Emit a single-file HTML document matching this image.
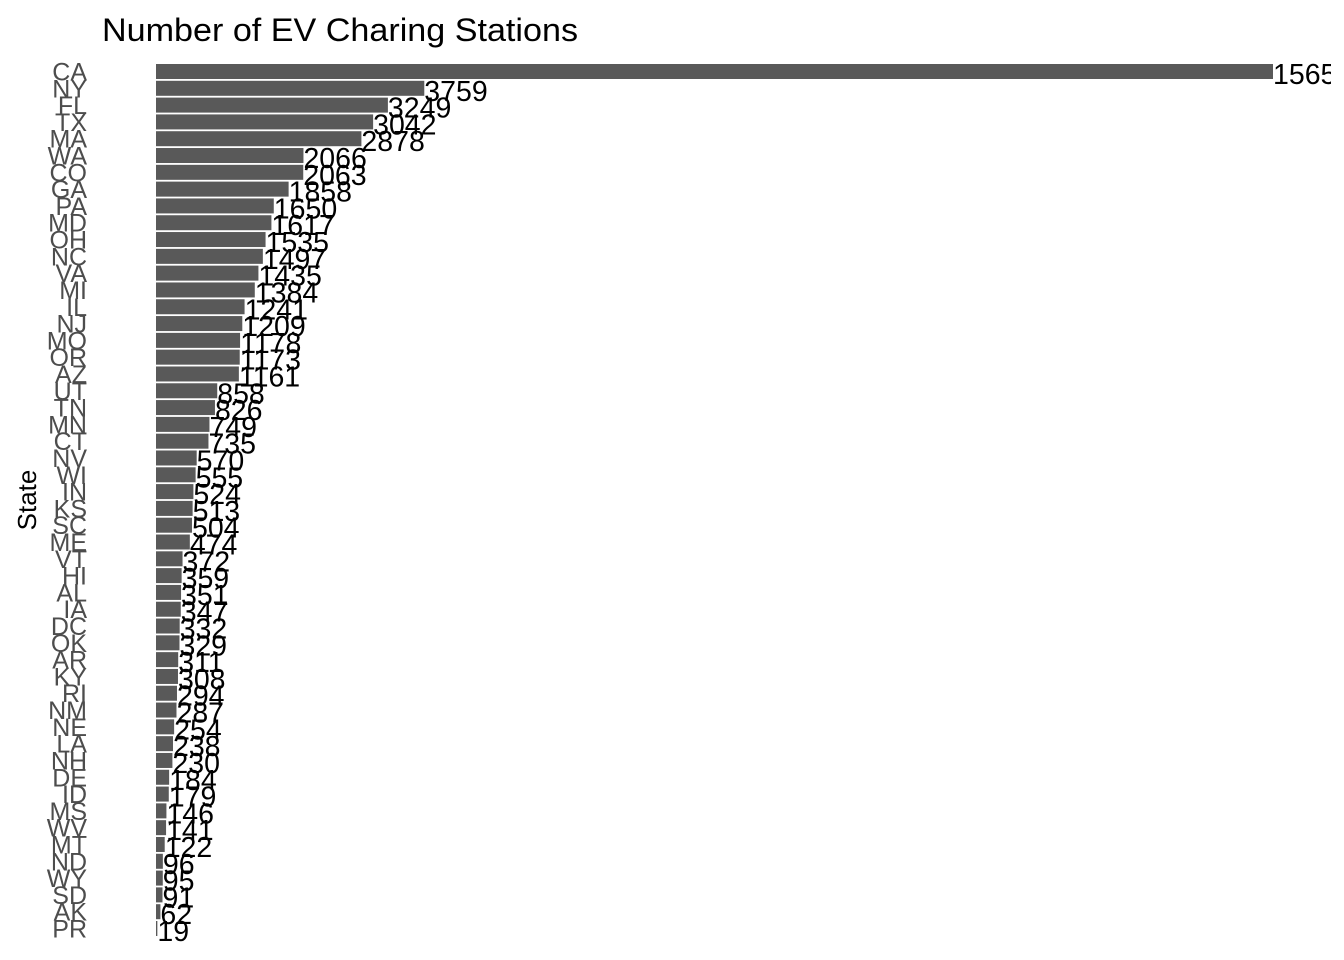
<!DOCTYPE html>
<html><head><meta charset="utf-8"><style>
body{margin:0;background:#fff}
svg{display:block;font-family:"Liberation Sans",Arial,sans-serif}
</style></head><body>
<svg id="chart" width="1344" height="960" viewBox="0 0 1344 960">
<text x="102" y="41" font-size="32" fill="#000" textLength="476" lengthAdjust="spacingAndGlyphs">Number of EV Charing Stations</text>
<text transform="translate(36,500) rotate(-90)" text-anchor="middle" font-size="26" fill="#000">State</text>
<defs><clipPath id="pc"><rect x="0" y="0" width="1331" height="960"/></clipPath></defs>
<g id="bars" clip-path="url(#pc)"></g>
</svg>
<script>
const states=["CA","NY","FL","TX","MA","WA","CO","GA","PA","MD","OH","NC","VA","MI","IL","NJ","MO","OR","AZ","UT","TN","MN","CT","NV","WI","IN","KS","SC","ME","VT","HI","AL","IA","DC","OK","AR","KY","RI","NM","NE","LA","NH","DE","ID","MS","WV","MT","ND","WY","SD","AK","PR"];
const values=[15650,3759,3249,3042,2878,2066,2063,1858,1650,1617,1535,1497,1435,1384,1241,1209,1178,1173,1161,858,826,749,735,570,555,524,513,504,474,372,359,351,347,332,329,311,308,294,287,254,238,230,184,179,146,141,122,96,95,91,62,19];
const NS="http://www.w3.org/2000/svg";
const g=document.getElementById("bars");
const x0=156,xScale=v=>x0+v*(1117/15650);
const yTop=71.5,pitch=(929-72)/51,bh=15;
const yPos=i=>yTop+i*pitch;
states.forEach((s,i)=>{
  const yc=yPos(i);
  const r=document.createElementNS(NS,"rect");
  r.setAttribute("x",x0);r.setAttribute("y",yc-bh/2);
  r.setAttribute("width",xScale(values[i])-x0);r.setAttribute("height",bh);
  r.setAttribute("fill","#595959");
  
  
  g.appendChild(r);
  const t=document.createElementNS(NS,"text");
  t.setAttribute("x",xScale(values[i]));t.setAttribute("y",yc+12.5);
  t.setAttribute("font-size","28.5");t.setAttribute("fill","#000");
  t.textContent=values[i];
  
  
  g.appendChild(t);
  const l=document.createElementNS(NS,"text");
  l.setAttribute("x",87);l.setAttribute("y",yc+9);
  l.setAttribute("text-anchor","end");l.setAttribute("font-size","25");l.setAttribute("fill","#4d4d4d");
  l.textContent=s;
  
  
  document.getElementById("chart").appendChild(l);
});
</script>
</body></html>
